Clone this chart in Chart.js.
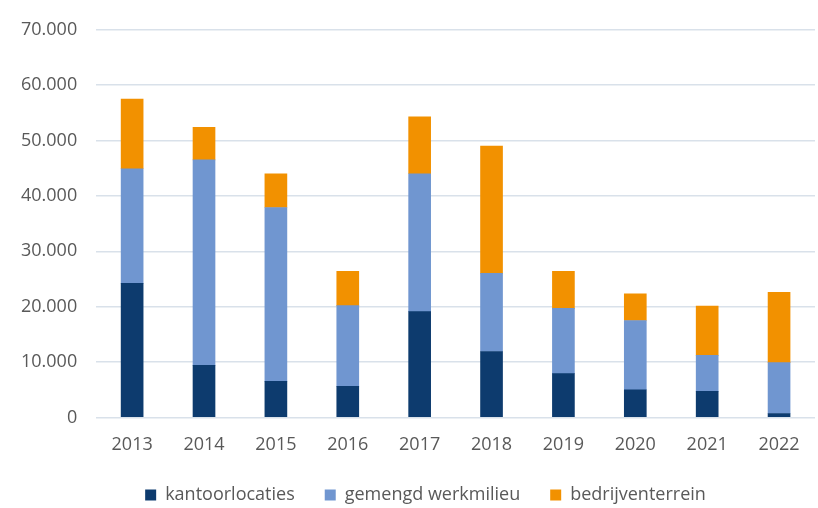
<!DOCTYPE html>
<html>
<head>
<meta charset="utf-8">
<script src="https://cdn.jsdelivr.net/npm/chart.js@4.4.0/dist/chart.umd.min.js"></script>
<style>
  html, body { margin: 0; padding: 0; background: #ffffff; }
  #wrap { width: 818px; height: 508px; }
</style>
</head>
<body>
<div id="wrap"><canvas id="chart" width="818" height="508"></canvas></div>
<script>
const years = ["2013", "2014", "2015", "2016", "2017", "2018", "2019", "2020", "2021", "2022"];
const kantoorlocaties = [24200, 9400, 6500, 5600, 19100, 11900, 7900, 5000, 4700, 700];
const gemengdWerkmilieu = [20700, 37100, 31400, 14600, 24900, 14100, 11800, 12500, 6500, 9200];
const bedrijventerrein = [12600, 5900, 6100, 6200, 10300, 23000, 6700, 4800, 8900, 12700];

const textColor = "#595959";
const gridColor = "#d9e1ea";
const fontSpec = { family: "Open Sans", size: 18 };

function dutchNumber(v) {
  return String(v).replace(/\B(?=(\d{3})+(?!\d))/g, ".");
}

// legend: keep the wide horizontal gaps but pull it closer vertically,
// and nudge it a bit to the right like in the original
const legendTighten = {
  id: "legendTighten",
  beforeLayout(chart) {
    const lg = chart.legend;
    if (!lg || lg._tightened) return;
    const fit = lg.fit;
    const draw = lg.draw;
    lg.fit = function () {
      fit.call(this);
      this.height -= 23;
    };
    lg.draw = function () {
      const { top, left, right } = this;
      this.top = top - 17;
      this.left = left + 17;
      this.right = right + 17;
      draw.apply(this, arguments);
      this.top = top;
      this.left = left;
      this.right = right;
    };
    lg._tightened = true;
  },
};

const ctx = document.getElementById("chart");

new Chart(ctx, {
  type: "bar",
  data: {
    labels: years,
    datasets: [
      {
        label: "kantoorlocaties",
        data: kantoorlocaties,
        backgroundColor: "#0d3b6e",
      },
      {
        label: "gemengd werkmilieu",
        data: gemengdWerkmilieu,
        backgroundColor: "#7096d0",
      },
      {
        label: "bedrijventerrein",
        data: bedrijventerrein,
        backgroundColor: "#f29100",
      },
    ],
  },
  options: {
    responsive: false,
    animation: false,
    layout: {
      padding: { left: 2, right: 3, top: 20, bottom: 0 },
    },
    datasets: {
      bar: { barThickness: 22 },
    },
    scales: {
      x: {
        stacked: true,
        grid: { display: false, drawTicks: false },
        border: { display: false },
        ticks: {
          color: textColor,
          padding: 17,
          font: fontSpec,
        },
      },
      y: {
        stacked: true,
        min: 0,
        max: 70000,
        grid: { color: gridColor, lineWidth: 1.5, drawTicks: false },
        border: { display: false },
        ticks: {
          stepSize: 10000,
          color: textColor,
          padding: 19,
          font: fontSpec,
          callback: (v) => dutchNumber(v),
        },
      },
    },
    plugins: {
      legend: {
        position: "bottom",
        labels: {
          color: textColor,
          boxWidth: 11,
          boxHeight: 11,
          padding: 30,
          font: fontSpec,
        },
      },
      tooltip: { enabled: false },
    },
  },
  plugins: [legendTighten],
});
</script>
</body>
</html>
